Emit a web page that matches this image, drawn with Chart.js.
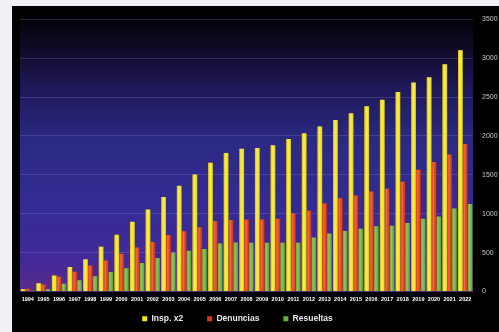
<!DOCTYPE html>
<html>
<head>
<meta charset="utf-8">
<script src="https://cdn.jsdelivr.net/npm/chart.js@4"></script>
<style>
  html, body { margin: 0; padding: 0; background: #eef0f3; }
  #wrap { position: absolute; left: 12px; top: 6px; width: 487px; height: 326px; background: #000; }
</style>
</head>
<body>
<div id="wrap"><canvas id="chart"></canvas></div>
<script>
const years = ["1994", "1995", "1996", "1997", "1998", "1999", "2000", "2001", "2002", "2003",
  "2004", "2005", "2006", "2007", "2008", "2009", "2010", "2011", "2012", "2013",
  "2014", "2015", "2016", "2017", "2018", "2019", "2020", "2021", "2022"];
const inspX2 = [30, 105, 205, 315, 415, 575, 730, 895, 1055, 1215,
  1360, 1505, 1655, 1780, 1835, 1845, 1880, 1960, 2035, 2120,
  2205, 2290, 2380, 2465, 2565, 2685, 2755, 2920, 3100];
const denuncias = [35, 90, 190, 255, 335, 400, 485, 565, 635, 725,
  775, 825, 905, 920, 925, 925, 935, 1005, 1040, 1130,
  1200, 1235, 1285, 1320, 1410, 1565, 1665, 1760, 1895];
const resueltas = [10, 28, 100, 145, 195, 250, 300, 365, 430, 500,
  525, 547, 618, 630, 628, 628, 628, 628, 694, 745,
  778, 808, 838, 846, 880, 934, 964, 1066, 1124];
const yTicks = [0, 500, 1000, 1500, 2000, 2500, 3000, 3500];

const colors = {
  yellow: "#f4e81c",
  red: "#e6380e",
  green: "#62b43c",
  tick: "#c8c8c8",
  grid: "rgba(190, 180, 255, 0.18)"
};

const backgroundPlugin = {
  id: "plotBackground",
  beforeDraw(chart) {
    const { ctx, chartArea, width, height } = chart;
    ctx.save();
    ctx.fillStyle = "#000";
    ctx.fillRect(0, 0, width, height);
    if (chartArea) {
      const g = ctx.createLinearGradient(0, chartArea.top, 0, chartArea.bottom);
      g.addColorStop(0, "#040208");
      g.addColorStop(0.12, "#130b2c");
      g.addColorStop(0.25, "#1e1958");
      g.addColorStop(0.45, "#2c2984");
      g.addColorStop(0.7, "#342b94");
      g.addColorStop(0.88, "#42299a");
      g.addColorStop(1, "#5a2a8a");
      ctx.fillStyle = g;
      ctx.fillRect(chartArea.left, chartArea.top - 2, chartArea.right - chartArea.left, chartArea.bottom - chartArea.top + 2);
    }
    ctx.restore();
  }
};

// cylinder-like shading over each bar
const shadePlugin = {
  id: "barShade",
  afterDatasetsDraw(chart) {
    const { ctx } = chart;
    ctx.save();
    chart.data.datasets.forEach((_ds, i) => {
      const meta = chart.getDatasetMeta(i);
      meta.data.forEach((bar) => {
        const { x, y, base, width } = bar.getProps(["x", "y", "base", "width"], true);
        const left = x - width / 2;
        const g = ctx.createLinearGradient(left, 0, left + width, 0);
        g.addColorStop(0, "rgba(170, 70, 0, 0.3)");
        g.addColorStop(0.4, "rgba(255, 255, 255, 0.25)");
        g.addColorStop(0.65, "rgba(255, 255, 255, 0.05)");
        g.addColorStop(1, "rgba(0, 0, 0, 0.2)");
        ctx.fillStyle = g;
        ctx.fillRect(left, y, width, base - y);
      });
    });
    ctx.restore();
  }
};

// the legend keeps wide gaps between items but sits closer to the axis labels
const LEGEND_DX = -22;
const LEGEND_DY = -13;
const legendNudge = {
  id: "legendNudge",
  afterInit(chart) {
    const legend = chart.legend;
    if (!legend) return;
    const draw = legend.draw.bind(legend);
    legend.draw = function () {
      chart.ctx.save();
      chart.ctx.translate(LEGEND_DX, LEGEND_DY);
      draw();
      chart.ctx.restore();
    };
  }
};

new Chart(document.getElementById("chart"), {
  type: "bar",
  data: {
    labels: years,
    datasets: [
      { label: "Insp. x2", data: inspX2, backgroundColor: colors.yellow },
      { label: "Denuncias", data: denuncias, backgroundColor: colors.red },
      { label: "Resueltas", data: resueltas, backgroundColor: colors.green }
    ]
  },
  plugins: [backgroundPlugin, shadePlugin, legendNudge],
  options: {
    responsive: true,
    maintainAspectRatio: false,
    animation: false,
    datasets: {
      bar: { categoryPercentage: 0.92, barPercentage: 1.0, borderWidth: 0 }
    },
    layout: { padding: { left: 8, top: 8, right: 0, bottom: -14 } },
    plugins: {
      tooltip: { enabled: false },
      legend: {
        position: "bottom",
        labels: {
          color: "#e8e8e8",
          boxWidth: 5,
          boxHeight: 5,
          padding: 24,
          font: { family: "Liberation Sans", size: 8.5, weight: "bold" }
        }
      }
    },
    scales: {
      x: {
        grid: { display: false, drawTicks: false },
        border: { display: false },
        ticks: {
          color: "#ffffff",
          autoSkip: false,
          maxRotation: 0,
          padding: 5,
          font: { family: "Liberation Sans", size: 5.5, weight: "bold" }
        },
        afterFit: (s) => { s.height = 12; }
      },
      y: {
        position: "right",
        min: 0,
        max: 3500,
        afterBuildTicks: (s) => { s.ticks = yTicks.map((v) => ({ value: v })); },
        grid: { color: colors.grid, drawTicks: false },
        border: { display: false },
        ticks: {
          color: colors.tick,
          padding: 9,
          font: { family: "Liberation Sans", size: 7 },
          callback: (v) => String(v)
        },
        afterFit: (s) => { s.width = 26; }
      }
    }
  }
});
</script>
</body>
</html>
